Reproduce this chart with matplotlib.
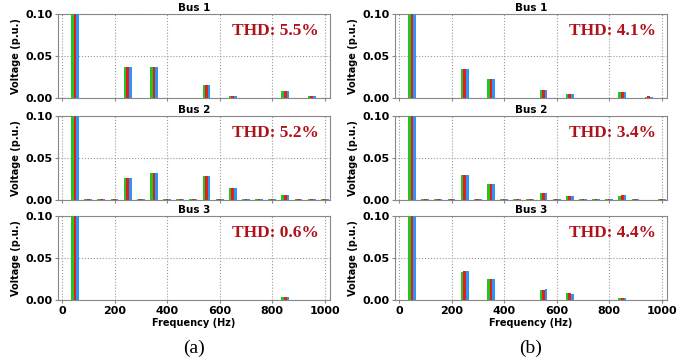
import numpy as np
import matplotlib.pyplot as plt

# Harmonic frequencies (Hz)
freqs = [50, 250, 350, 550, 650, 850, 950]
extra_freqs = [100, 150, 200, 300, 400, 450, 500, 600, 700, 750, 800, 900, 1000]

# Phase values (green, red, blue) for each bus, case (a)
a_bus1 = [[1.0, 0.037, 0.037, 0.016, 0.002, 0.008, 0.0025],
          [1.0, 0.037, 0.037, 0.016, 0.002, 0.008, 0.0025],
          [1.0, 0.037, 0.037, 0.016, 0.002, 0.008, 0.0025]]
a_bus2 = [[1.0, 0.026, 0.032, 0.029, 0.0145, 0.0056, 0.0012],
          [1.0, 0.026, 0.032, 0.029, 0.0145, 0.0056, 0.0012],
          [1.0, 0.026, 0.032, 0.029, 0.0145, 0.0056, 0.0012]]
a_bus3 = [[1.0, 0.0, 0.0, 0.0, 0.0, 0.003, 0.0],
          [1.0, 0.0, 0.0, 0.0, 0.0, 0.003, 0.0],
          [1.0, 0.0, 0.0, 0.0, 0.0, 0.003, 0.0]]

# case (b)
b_bus1 = [[1.0, 0.035, 0.023, 0.009, 0.0048, 0.0075, 0.001],
          [1.0, 0.035, 0.023, 0.009, 0.0048, 0.0075, 0.002],
          [1.0, 0.035, 0.023, 0.009, 0.0048, 0.0075, 0.001]]
b_bus2 = [[1.0, 0.030, 0.019, 0.0084, 0.0048, 0.0048, 0.0],
          [1.0, 0.030, 0.019, 0.0084, 0.0048, 0.0056, 0.0],
          [1.0, 0.030, 0.019, 0.0084, 0.0048, 0.0056, 0.0]]
b_bus3 = [[1.0, 0.033, 0.025, 0.0116, 0.0084, 0.0028, 0.0],
          [1.0, 0.034, 0.025, 0.0116, 0.0084, 0.0028, 0.0],
          [1.0, 0.034, 0.025, 0.0128, 0.0068, 0.0028, 0.0]]

extra_a = [0.0006] * len(extra_freqs)
extra_b = [0.0006] * len(extra_freqs)

thd_a = ['THD: 5.5%', 'THD: 5.2%', 'THD: 0.6%']
thd_b = ['THD: 4.1%', 'THD: 3.4%', 'THD: 4.4%']
titles = ['Bus 1', 'Bus 2', 'Bus 3']

colors = ['#22C522', '#E41E1E', '#2E95F5']
offsets = [-10, 0, 10]
w = 10

fig = plt.figure(figsize=(6.9, 3.62), dpi=100)

left_a, left_b, width = 58/690, 395/690, 272/690
bottoms = [1 - 98/362, 1 - 200/362, 1 - 300/362]
height = 84/362

def draw(ax, data, extra, title, thd, last):
    for k in range(3):
        x = np.array(freqs) + offsets[k]
        ax.bar(x, data[k], width=w, color=colors[k], zorder=3)
        if extra is not None:
            ax.bar(np.array(extra_freqs) + offsets[k], extra, width=w,
                   color=colors[k], zorder=3)
    ax.set_xlim(-15, 1020)
    ax.set_ylim(0, 0.1)
    ax.set_yticks([0, 0.05, 0.10])
    ax.set_yticklabels(['0.00', '0.05', '0.10'], fontsize=8, fontweight='bold')
    ax.set_xticks([0, 200, 400, 600, 800, 1000])
    ax.grid(True, linestyle=':', color='#999999', linewidth=0.8, zorder=0)
    ax.set_title(title, fontsize=7.5, fontweight='bold', pad=2)
    ax.set_ylabel('Voltage (p.u.)', fontsize=7, fontweight='bold', labelpad=3)
    ax.text(0.96, 0.80, thd, transform=ax.transAxes, ha='right', va='center',
            fontsize=12.5, fontweight='bold', color='#B0121A',
            family='Liberation Serif')
    for s in ax.spines.values():
        s.set_color('#888888')
    ax.tick_params(length=2, color='#888888', pad=2)
    if last:
        ax.set_xticklabels([0, 200, 400, 600, 800, 1000], fontsize=8,
                           fontweight='bold')
        ax.set_xlabel('Frequency (Hz)', fontsize=7, fontweight='bold', labelpad=2)
    else:
        ax.set_xticklabels([])

data_a = [a_bus1, a_bus2, a_bus3]
data_b = [b_bus1, b_bus2, b_bus3]
for i in range(3):
    ax = fig.add_axes([left_a, bottoms[i], width, height])
    draw(ax, data_a[i], extra_a if i == 1 else None, titles[i], thd_a[i], i == 2)
    ax = fig.add_axes([left_b, bottoms[i], width, height])
    draw(ax, data_b[i], extra_b if i == 1 else None, titles[i], thd_b[i], i == 2)

fig.text((58 + 272/2)/690, 1 - 348/362, '(a)', ha='center', va='center',
         fontsize=14, family='Liberation Serif')
fig.text((395 + 272/2)/690, 1 - 348/362, '(b)', ha='center', va='center',
         fontsize=14, family='Liberation Serif')

fig.savefig('out.png', dpi=100)
